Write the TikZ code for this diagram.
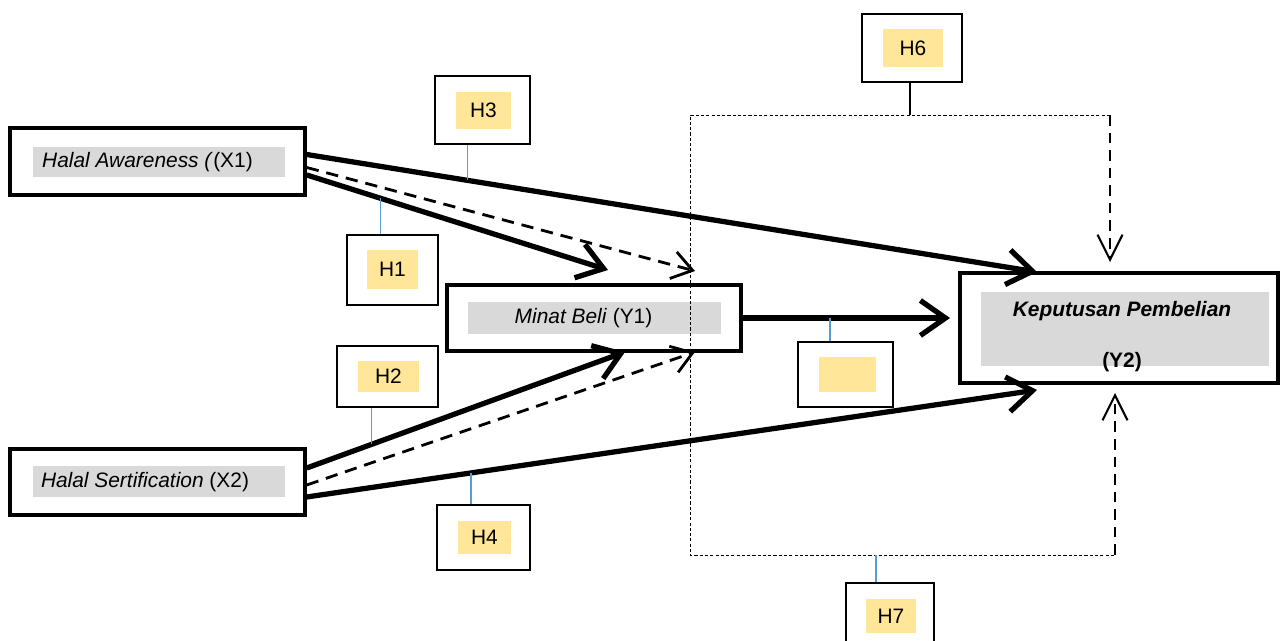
\documentclass[tikz,border=0pt]{standalone}
\usepackage{fontspec}
\setmainfont{Liberation Sans}
\usetikzlibrary{arrows.meta,calc}
\definecolor{hgray}{RGB}{217,217,217}
\definecolor{hyellow}{RGB}{255,230,153}
\definecolor{hblue}{RGB}{91,155,213}

\begin{document}
\begin{tikzpicture}[x=0.02cm, y=-0.02cm,
		varbox/.style={draw, line width=2pt, fill=white, inner sep=0pt},
		graybox/.style={fill=hgray, inner sep=0pt},
		hypbox/.style={draw, line width=1.1pt, fill=white, inner sep=0pt},
		yelbox/.style={fill=hyellow, inner sep=0pt, font=\fontsize{11.9}{14}\selectfont},
		txt/.style={inner sep=0pt, font=\fontsize{11.9}{14}\selectfont},
		bigarr/.style={line width=3pt, -{Straight Barb[length=5mm,width=7mm]}},
		dasharr/.style={line width=1.6pt, dash pattern=on 7pt off 4.5pt, -{Straight Barb[length=4mm,width=5.5mm]}},
		vdasharr/.style={line width=1.2pt, dash pattern=on 6pt off 4pt, -{Straight Barb[length=5mm,width=5mm]}},
		dotline/.style={line width=0.5pt, dash pattern=on 1.8pt off 1.2pt},
		hline/.style={hblue, line width=0.8pt}]
		
		\clip (0,0) rectangle (1282,641);
		
		% variabel
		\node[varbox, minimum width=5.9cm, minimum height=1.34cm] (X1) at (157.5,161.5) {};
		\node[graybox, minimum width=5.04cm, minimum height=0.6cm] (X1g) at (159,162) {};
		\node[txt] (X1t) at (147.5,162) {\textit{Halal Awareness (}(X1)};
		
		\node[varbox, minimum width=5.9cm, minimum height=1.32cm] (X2) at (157.5,482) {};
		\node[graybox, minimum width=5.04cm, minimum height=0.62cm] (X2g) at (159,481.5) {};
		\node[txt] (X2t) at (145,482) {\textit{Halal Sertification} (X2)};
		
		\node[varbox, minimum width=5.88cm, minimum height=1.32cm] (Y1) at (594,318) {};
		\node[graybox, minimum width=5.06cm, minimum height=0.64cm] (Y1g) at (594.5,318) {};
		\node[txt] (Y1t) at (583.5,318) {\textit{Minat Beli} (Y1)};
		
		\node[varbox, minimum width=6.36cm, minimum height=2.2cm] (Y2) at (1119,328) {};
		\node[graybox, minimum width=5.76cm, minimum height=1.48cm] (Y2g) at (1125,329) {};
		\node[txt, align=center] (Y2t) at (1122,337) {\textbf{\textit{Keputusan Pembelian}}\\[0.53cm]\textbf{(Y2)}};
		
		% hipotesis
		\node[hypbox, minimum width=2cm, minimum height=1.36cm] (H6) at (912,48) {};
		\node[yelbox, minimum width=1.2cm, minimum height=0.76cm] (H6t) at (913,48) {H6};
		\node[hypbox, minimum width=1.9cm, minimum height=1.36cm] (H3) at (482.5,110) {};
		\node[yelbox, minimum width=1.1cm, minimum height=0.74cm] (H3t) at (483.5,110.5) {H3};
		\node[hypbox, minimum width=1.82cm, minimum height=1.4cm] (H1) at (392.5,270) {};
		\node[yelbox, minimum width=1.02cm, minimum height=0.78cm] (H1t) at (392.5,269.5) {H1};
		\node[hypbox, minimum width=2.02cm, minimum height=1.22cm] (H2) at (387.5,376.5) {};
		\node[yelbox, minimum width=1.22cm, minimum height=0.62cm] (H2t) at (388.5,376.5) {H2};
		\node[hypbox, minimum width=1.86cm, minimum height=1.3cm] (H4) at (483.5,537.5) {};
		\node[yelbox, minimum width=1.06cm, minimum height=0.66cm] (H4t) at (484.5,537.5) {H4};
		\node[hypbox, minimum width=1.9cm, minimum height=1.3cm] (H5) at (845.5,374.5) {};
		\node[yelbox, minimum width=1.14cm, minimum height=0.7cm] (H5t) at (847.5,374.5) {};
		\node[hypbox, minimum width=1.76cm, minimum height=1.36cm] (H7) at (890,617) {};
		\node[yelbox, minimum width=1cm, minimum height=0.68cm] (H7t) at (891,616) {H7};
		
		% ujung panah
		\coordinate (t1) at (1037,272);
		\coordinate (t2) at (608,270);
		\coordinate (t3) at (695,271);
		\coordinate (t4) at (950,318);
		\coordinate (t5) at (625,352);
		\coordinate (t6) at (695,352);
		\coordinate (t7) at (1037,390);
		\coordinate (fTL) at (690,115);
		\coordinate (fBL) at (690,555);
		\coordinate (fTR) at (1110,115);
		\coordinate (fBR) at (1115,555);
		\coordinate (t8) at (1110,262);
		\coordinate (t9) at (1115,393);
		
		\draw[bigarr] ($(X1.east)+(0,-7)$) -- coordinate[pos=0.22] (p3) (t1);
		\draw[bigarr] ($(X1.east)+(0,13.5)$) -- coordinate[pos=0.244] (p1) (t2);
		\draw[dasharr] ($(X1.east)+(0,6)$) -- (t3);
		\draw[bigarr] (Y1.east) -- coordinate[pos=0.421] (p5) (t4);
		\draw[bigarr] ($(X2.east)+(0,-14)$) -- coordinate[pos=0.203] (p2) (t5);
		\draw[dasharr] ($(X2.east)+(0,3)$) -- (t6);
		\draw[bigarr] ($(X2.east)+(0,15)$) -- coordinate[pos=0.2247] (p4) (t7);
		
		\draw[dotline] (fTR) -- coordinate[pos=0.476] (p6) (fTL) -- (fBL) -- coordinate[pos=0.4376] (p7) (fBR);
		\draw[vdasharr] (fTR) -- (t8);
		\draw[vdasharr] (fBR) -- (t9);
		
		\draw[hline] (p3 |- H3.south) -- (p3);
		\draw[hline] (p1 |- H1.north) -- (p1);
		\draw[hline] (p2 |- H2.south) -- (p2);
		\draw[hline] (p4 |- H4.north) -- (p4);
		\draw[hline] (p5 |- H5.north) -- (p5);
		\draw[hline] (p7 |- H7.north) -- (p7);
		\draw[line width=0.8pt] (p6 |- H6.south) -- (p6);
	\end{tikzpicture}
\end{document}
